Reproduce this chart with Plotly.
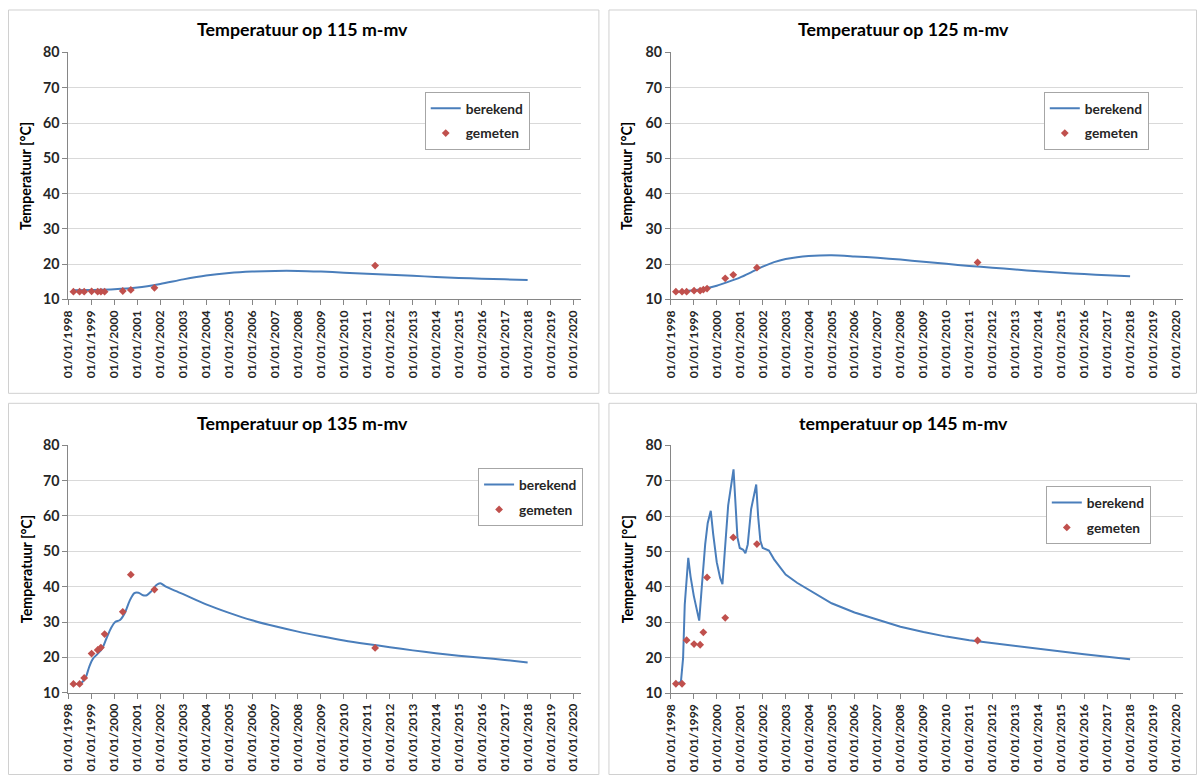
import plotly.graph_objects as go

# ---------------- data ----------------
meas_dates = ["1998-03-22", "1998-06-28", "1998-09-09", "1999-01-05", "1999-04-12",
              "1999-06-02", "1999-07-31", "2000-05-15", "2000-09-20", "2001-10-01",
              "2011-05-12"]

meas_115 = [12.2, 12.2, 12.2, 12.3, 12.2, 12.2, 12.2, 12.4, 12.7, 13.3, 19.6]
meas_125 = [12.2, 12.2, 12.2, 12.5, 12.5, 12.8, 13.1, 16.0, 17.0, 19.0, 20.5]
meas_135 = [12.5, 12.5, 14.2, 21.1, 22.1, 22.8, 26.6, 32.9, 43.4, 39.2, 22.7]
meas_145 = [12.7, 12.7, 25.0, 23.9, 23.7, 27.2, 42.7, 31.3, 54.0, 52.1, 24.9]

yearly = ["1999-01-01", "2000-01-01", "2001-01-01", "2002-01-01", "2003-01-01",
          "2004-01-01", "2005-01-01", "2006-01-01", "2007-01-01", "2008-01-01",
          "2009-01-01", "2010-01-01", "2011-01-01", "2012-01-01", "2013-01-01",
          "2014-01-01", "2015-01-01", "2016-01-01", "2017-01-01", "2018-01-01"]

calc_115_dates = ["1998-03-05"] + yearly
calc_115 = [12.6, 12.7, 12.9, 13.4, 14.4, 15.7, 16.8, 17.5, 17.9, 18.1, 18.1,
            17.9, 17.6, 17.3, 17.0, 16.7, 16.4, 16.1, 15.9, 15.7, 15.5]

calc_125_dates = ["1998-03-10", "1998-07-01", "1999-01-01", "1999-07-01", "2000-01-01",
                  "2000-07-01", "2001-01-01", "2001-07-01", "2002-01-01", "2002-07-01",
                  "2003-01-01", "2003-07-01", "2004-01-01", "2005-01-01", "2006-01-01",
                  "2007-01-01", "2008-01-01", "2009-01-01", "2010-01-01", "2011-01-01",
                  "2012-01-01", "2013-01-01", "2014-01-01", "2015-01-01", "2016-01-01",
                  "2017-01-01", "2018-01-01"]
calc_125 = [12.2, 12.3, 12.6, 13.1, 13.9, 15.0, 16.2, 17.7, 19.3, 20.6, 21.5, 22.0,
            22.3, 22.5, 22.2, 21.8, 21.3, 20.7, 20.1, 19.5, 19.0, 18.5, 18.0, 17.6,
            17.2, 16.9, 16.6]

calc_135_dates = ["1998-03-22", "1998-07-10", "1998-10-01", "1998-12-01", "1999-01-25",
                  "1999-04-10", "1999-06-25", "1999-09-01", "1999-11-15", "2000-01-15",
                  "2000-04-01", "2000-06-15", "2000-09-01", "2000-11-15", "2001-01-20",
                  "2001-04-01", "2001-06-01", "2001-08-01", "2001-11-01", "2002-01-01",
                  "2002-04-01", "2002-09-01", "2003-01-01", "2004-01-01", "2005-01-01",
                  "2006-01-01", "2007-01-01", "2008-01-01", "2009-01-01", "2010-01-01",
                  "2011-01-01", "2012-01-01", "2013-01-01", "2014-01-01", "2015-01-01",
                  "2016-01-01", "2017-01-01", "2018-01-01"]
calc_135 = [12.5, 12.6, 14.3, 17.5, 19.6, 21.0, 22.6, 25.5, 28.5, 30.0, 30.6, 32.5,
            36.0, 38.2, 38.3, 37.6, 37.6, 38.5, 40.5, 41.0, 40.0, 38.8, 37.9, 35.0,
            32.6, 30.5, 28.8, 27.3, 26.0, 24.8, 23.8, 22.9, 22.0, 21.2, 20.5, 19.9,
            19.3, 18.6]

calc_145_dates = ["1998-03-22", "1998-06-10", "1998-07-15", "1998-08-10", "1998-10-05",
                  "1998-11-10", "1999-01-01", "1999-02-20", "1999-03-28", "1999-05-08",
                  "1999-07-01", "1999-08-10", "1999-09-28", "1999-11-05", "2000-01-01",
                  "2000-02-25", "2000-04-01", "2000-05-08", "2000-07-01", "2000-09-24",
                  "2000-10-20", "2000-11-25", "2001-01-01", "2001-02-25", "2001-04-01",
                  "2001-05-08", "2001-07-01", "2001-09-20", "2001-10-20", "2001-11-25",
                  "2002-01-01", "2002-02-25", "2002-04-10", "2002-07-01", "2002-10-01",
                  "2003-01-01", "2003-07-01", "2004-01-01", "2004-07-01", "2005-01-01",
                  "2006-01-01", "2007-01-01", "2008-01-01", "2009-01-01", "2010-01-01",
                  "2011-01-01", "2012-01-01", "2013-01-01", "2014-01-01", "2015-01-01",
                  "2016-01-01", "2017-01-01", "2018-01-01"]
calc_145 = [12.7, 13.2, 20.0, 35.0, 48.2, 43.0, 37.5, 33.0, 30.5, 40.0, 52.0, 58.0,
            61.5, 55.0, 47.0, 42.5, 40.8, 50.0, 63.0, 73.2, 65.0, 54.0, 51.0, 50.5,
            49.5, 52.0, 62.0, 68.9, 60.0, 53.0, 51.0, 50.5, 50.3, 47.8, 45.5,
            43.5, 41.2, 39.3, 37.2, 35.4, 32.8, 30.7, 28.8, 27.3, 26.0,
            25.0, 24.2, 23.4, 22.4, 21.7, 21.0, 20.3, 19.6]

titles = ["Temperatuur op 115 m-mv", "Temperatuur op 125 m-mv",
          "Temperatuur op 135 m-mv", "temperatuur op 145 m-mv"]
series_names = ["berekend", "gemeten"]
y_title = "Temperatuur [°C]"

# ---------------- layout geometry ----------------
W, H = 1197, 783
FONT = "Lato"
LINE_C = "#4A7EBB"
MARK_C = "#C0504D"

# the captured page shows the figure inset by ~8 px and slightly shrunk;
# geometry below is given in target-picture pixels and mapped back here.
OFF, SX, SY = 8.0, 0.9868, 0.9800
FS = 1.0 / 0.984


def px_x(v):
    return min(max((v - OFF) / SX, 0.5), W - 0.5) / W


def px_y(v):
    return 1 - min(max((v - OFF) / SY, 0.5), H - 0.5) / H


panels = [
    dict(box=(7, 9, 595, 393), plot=(68, 51.5, 577, 299), leg=(422, 91), tx=301, ty=28, ax=26),
    dict(box=(605, 9, 1192, 393), plot=(666.5, 51.5, 1175.5, 299), leg=(1037, 91), tx=898, ty=28, ax=623),
    dict(box=(7, 403, 595, 781), plot=(68, 445, 577, 693), leg=(475, 468), tx=301, ty=423, ax=26),
    dict(box=(605, 403, 1192, 781), plot=(666.5, 445, 1175.5, 693.5), leg=(1039, 486), tx=898, ty=423, ax=623),
]

calc = [(calc_115_dates, calc_115), (calc_125_dates, calc_125),
        (calc_135_dates, calc_135), (calc_145_dates, calc_145)]
meas = [meas_115, meas_125, meas_135, meas_145]
line_shapes = ["spline", "spline", "spline", "linear"]

fig = go.Figure()
shapes = []
annotations = []
layout = dict(
    width=W, height=H, margin=dict(l=0, r=0, t=0, b=0),
    paper_bgcolor="white", plot_bgcolor="white",
    font=dict(family=FONT, color="#262626"),
    showlegend=True,
)

for i, p in enumerate(panels):
    n = i + 1
    xa = "x" if n == 1 else f"x{n}"
    ya = "y" if n == 1 else f"y{n}"
    leg = "legend" if n == 1 else f"legend{n}"
    cd, cv = calc[i]
    fig.add_trace(go.Scatter(
        x=cd, y=cv, mode="lines", name=series_names[0],
        line=dict(color=LINE_C, width=2, shape=line_shapes[i], smoothing=0.8),
        xaxis=xa, yaxis=ya, legend=leg, legendgroup=f"c{n}", hoverinfo="x+y"))
    fig.add_trace(go.Scatter(
        x=meas_dates, y=meas[i], mode="markers", name=series_names[1],
        marker=dict(color=MARK_C, size=6, symbol="diamond"),
        xaxis=xa, yaxis=ya, legend=leg, legendgroup=f"m{n}", hoverinfo="x+y"))

    x0, y0, x1, y1 = p["plot"]
    xkey = "xaxis" if n == 1 else f"xaxis{n}"
    ykey = "yaxis" if n == 1 else f"yaxis{n}"
    layout[xkey] = dict(
        domain=[px_x(x0), px_x(x1)], anchor=ya, type="date",
        range=["1998-01-01", "2020-04-25"], tick0="1998-01-01", dtick="M12",
        tickformat="%d/%m/%Y", tickangle=-90, ticks="outside", ticklen=5,
        tickcolor="#868686", showline=True, linecolor="#868686", linewidth=1,
        showgrid=False, zeroline=False,
        tickfont=dict(family=FONT, size=12 * FS, weight="bold", color="#262626"),
    )
    layout[ykey] = dict(
        domain=[px_y(y1), px_y(y0)], anchor=xa, range=[10, 80], dtick=10,
        ticks="outside", ticklen=5, tickcolor="#868686", showline=True,
        linecolor="#868686", linewidth=1, showgrid=True, gridcolor="#D9D9D9",
        zeroline=False,
        tickfont=dict(family=FONT, size=14 * FS, weight="bold", color="#262626"),
    )
    lx, ly = p["leg"]
    layout[leg] = dict(
        x=px_x(lx), y=px_y(ly), xref="paper", yref="paper",
        xanchor="left", yanchor="top", bgcolor="white",
        bordercolor="#A6A6A6", borderwidth=1, itemwidth=30,
        tracegroupgap=4,
        font=dict(family=FONT, size=13.5 * FS, weight="bold", color="#262626"),
    )
    bx0, by0, bx1, by1 = p["box"]
    shapes.append(dict(type="rect", xref="paper", yref="paper",
                       x0=px_x(bx0), x1=px_x(bx1), y0=px_y(by1), y1=px_y(by0),
                       line=dict(color="#D0D0D0", width=1), layer="below"))
    annotations.append(dict(text=titles[i], x=px_x(p["tx"]), y=px_y(p["ty"]),
                            xref="paper", yref="paper", showarrow=False,
                            xanchor="center", yanchor="middle",
                            font=dict(family=FONT, size=17.5 * FS, weight="bold", color="#000000")))
    annotations.append(dict(text=y_title, x=px_x(p["ax"]), y=px_y((y0 + y1) / 2),
                            xref="paper", yref="paper", showarrow=False, textangle=-90,
                            xanchor="center", yanchor="middle",
                            font=dict(family=FONT, size=14 * FS, weight="bold", color="#000000")))

layout["shapes"] = shapes
layout["annotations"] = annotations
fig.update_layout(**layout)
fig.write_html("out.html")
